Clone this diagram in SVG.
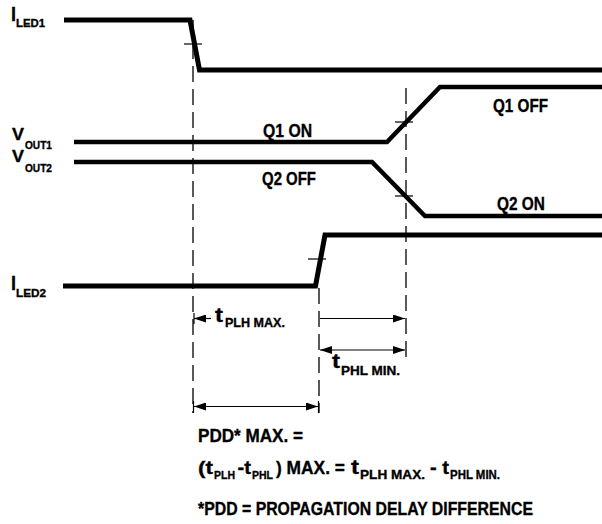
<svg xmlns="http://www.w3.org/2000/svg" width="602" height="524" viewBox="0 0 602 524">
<style>
.sig{fill:none;stroke:#000;stroke-width:5;stroke-linejoin:miter}
.vsig{fill:none;stroke:#000;stroke-width:4.5}
.dash{fill:none;stroke:#000;stroke-width:1.3;stroke-dasharray:16 7}
.thin{fill:none;stroke:#000;stroke-width:1.2}
.txt{font-family:"Liberation Sans",Arial,sans-serif;font-weight:bold;fill:#000;stroke:#000;stroke-width:0.35}
.m{font-size:19px}
.tt{font-size:21px}
.s{font-size:13px}
.s2{font-size:11.5px}
.big{font-size:21px}
.v{font-size:16.5px}
.ss{font-size:11.5px}
</style>
<defs>
<marker id="ah" viewBox="0 0 12 8" refX="12" refY="4" markerWidth="12" markerHeight="8" markerUnits="userSpaceOnUse" orient="auto-start-reverse"><path d="M0,0 L12,4 L0,8 z" fill="#000"/></marker>
</defs>
<rect width="602" height="524" fill="#fff"/>

<g id="guides">
<line class="dash" x1="193" y1="20" x2="193" y2="413"/>
<line class="dash" x1="406" y1="88" x2="406" y2="361"/>
<line class="dash" x1="319" y1="288" x2="319" y2="413"/>
</g>

<g id="iled1">
<polyline class="sig" points="64,20 190,20 199.5,70 602,70"/>
<line class="thin" x1="184" y1="44" x2="202" y2="44"/>
<text class="txt big" x="11" y="21" textLength="5" lengthAdjust="spacingAndGlyphs">I</text>
<text class="txt ss" x="16" y="27" textLength="29" lengthAdjust="spacingAndGlyphs">LED1</text>
</g>

<g id="vout1">
<polyline class="vsig" points="74,142 387,142 440,87 602,87"/>
<line class="thin" x1="395" y1="122" x2="413" y2="122"/>
<text class="txt v" x="12" y="140" textLength="12" lengthAdjust="spacingAndGlyphs">V</text>
<text class="txt ss" x="25" y="149" textLength="27" lengthAdjust="spacingAndGlyphs">OUT1</text>
<text class="txt m" x="263" y="137" textLength="49" lengthAdjust="spacingAndGlyphs">Q1 ON</text>
<text class="txt m" x="493" y="112" textLength="55" lengthAdjust="spacingAndGlyphs">Q1 OFF</text>
</g>

<g id="vout2">
<polyline class="vsig" points="74,162 372,162 425,216 602,216"/>
<line class="thin" x1="395" y1="196" x2="413" y2="196"/>
<text class="txt v" x="12" y="161.5" textLength="12" lengthAdjust="spacingAndGlyphs">V</text>
<text class="txt ss" x="25" y="171.5" textLength="27" lengthAdjust="spacingAndGlyphs">OUT2</text>
<text class="txt m" x="262" y="185" textLength="54" lengthAdjust="spacingAndGlyphs">Q2 OFF</text>
<text class="txt m" x="497" y="210" textLength="48" lengthAdjust="spacingAndGlyphs">Q2 ON</text>
</g>

<g id="iled2">
<polyline class="sig" points="63,286 315.5,286 325,235 602,235"/>
<line class="thin" x1="308" y1="259" x2="326" y2="259"/>
<text class="txt big" x="11" y="290" textLength="5" lengthAdjust="spacingAndGlyphs">I</text>
<text class="txt ss" x="16" y="296.5" textLength="30" lengthAdjust="spacingAndGlyphs">LED2</text>
</g>

<g id="connectors">
<line class="thin" x1="194" y1="313" x2="194" y2="324"/>
<line class="thin" x1="211" y1="318.5" x2="194" y2="318.5" marker-end="url(#ah)"/>
<line class="thin" x1="320" y1="318.5" x2="405" y2="318.5" marker-end="url(#ah)"/>
<line class="thin" x1="320" y1="350" x2="405" y2="350" marker-start="url(#ah)" marker-end="url(#ah)"/>
<line class="thin" x1="193.5" y1="401" x2="193.5" y2="413"/>
<line class="thin" x1="318.5" y1="401" x2="318.5" y2="413"/>
<line class="thin" x1="194" y1="406.5" x2="318" y2="406.5" marker-start="url(#ah)" marker-end="url(#ah)"/>
</g>

<g id="tplh">
<text class="txt tt" x="215" y="322" textLength="8" lengthAdjust="spacingAndGlyphs">t</text>
<text class="txt s" x="225" y="327" textLength="60" lengthAdjust="spacingAndGlyphs">PLH MAX.</text>
</g>
<g id="tphl">
<text class="txt tt" x="332" y="368" textLength="8" lengthAdjust="spacingAndGlyphs">t</text>
<text class="txt s" x="341" y="375" textLength="59" lengthAdjust="spacingAndGlyphs">PHL MIN.</text>
</g>

<g id="formula">
<text class="txt m" x="198" y="442" textLength="105" lengthAdjust="spacingAndGlyphs">PDD* MAX. =</text>
<text class="txt m" x="198" y="474" textLength="15" lengthAdjust="spacingAndGlyphs">(t</text>
<text class="txt s2" x="214" y="479" textLength="21" lengthAdjust="spacingAndGlyphs">PLH</text>
<text class="txt m" x="237.5" y="474" textLength="13.5" lengthAdjust="spacingAndGlyphs">-t</text>
<text class="txt s2" x="252" y="479" textLength="21" lengthAdjust="spacingAndGlyphs">PHL</text>
<text class="txt m" x="276" y="474" textLength="69" lengthAdjust="spacingAndGlyphs">) MAX. =</text>
<text class="txt tt" x="351" y="474" textLength="8" lengthAdjust="spacingAndGlyphs">t</text>
<text class="txt s" x="360" y="479" textLength="65" lengthAdjust="spacingAndGlyphs">PLH MAX.</text>
<text class="txt m" x="430" y="474" textLength="19" lengthAdjust="spacingAndGlyphs">- t</text>
<text class="txt s" x="450" y="479" textLength="50" lengthAdjust="spacingAndGlyphs">PHL MIN.</text>
<text class="txt m" x="198" y="515" textLength="335" lengthAdjust="spacingAndGlyphs">*PDD = PROPAGATION DELAY DIFFERENCE</text>
</g>
</svg>
